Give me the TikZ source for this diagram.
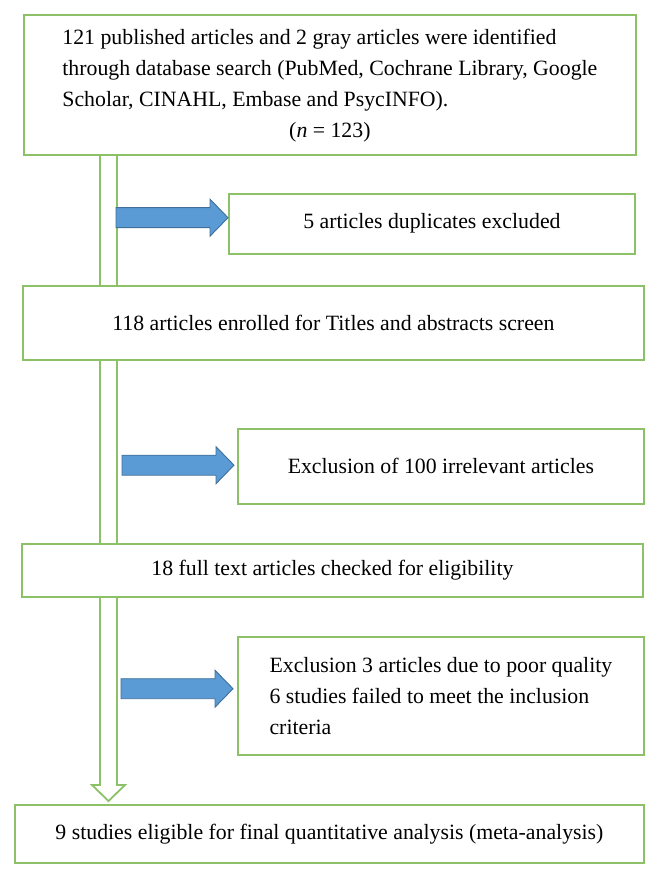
\documentclass[tikz,border=0pt]{standalone}
\usepackage{fontspec}
\setmainfont{Liberation Serif}
\usetikzlibrary{positioning}
\definecolor{boxgreen}{HTML}{8CC168}
\definecolor{arrowblue}{HTML}{5B9BD5}
\definecolor{arrowedge}{HTML}{3F6E99}
\pgfdeclarelayer{background}
\pgfsetlayers{background,main}
\tikzset{
  box/.style={rectangle, draw=boxgreen, fill=white, line width=1.8pt, text centered, inner sep=0pt},
  hollow/.style={draw=boxgreen, fill=white, line width=1.8pt, line join=miter},
  flow/.style={draw=arrowedge, fill=arrowblue, line width=0.9pt, line join=miter}
}
\newcommand{\flowarrow}[1]{\draw[flow] #1 -- ++(-18,-18.5) -- ++(0,8.5) -- ++(-94,0) -- ++(0,20) -- ++(94,0) -- ++(0,8.5) -- cycle;}

\begin{document}
\begin{tikzpicture}[x=1pt, y=-1pt, font=\fontsize{21.8}{31}\selectfont]
	\useasboundingbox (0,0) rectangle (658,877);
	% main column
	\node[box, anchor=north west, minimum width=612pt, minimum height=140pt] (search) at (23,14) {\begin{tabular}{@{}l@{}}
		121 published articles and 2 gray articles were identified\\
		through database search (PubMed, Cochrane Library, Google\\
		Scholar, CINAHL, Embase and PsycINFO).\\
		\multicolumn{1}{@{}c@{}}{(\textit{n} = 123)}
	\end{tabular}};
	\node[box, anchor=north west, minimum width=621pt, minimum height=74pt] (screen) at (22,285) {118 articles enrolled for Titles and abstracts screen};
	\node[box, anchor=north west, minimum width=621pt, minimum height=53pt] (fulltext) at (21,543) {18 full text articles checked for eligibility};
	\node[box, anchor=north west, minimum width=629pt, minimum height=58pt] (final) at (14,804) {9 studies eligible for final quantitative analysis (meta-analysis)};
	% side boxes
	\node[box, below left=37pt and 1pt of search.south east, minimum width=406pt, minimum height=60pt] (dupl) {5 articles duplicates excluded};
	\node[box, below left=67pt and 0pt of screen.south east, minimum width=406pt, minimum height=75pt] (irrel) {Exclusion of 100 irrelevant articles};
	\node[box, below left=38pt and -1pt of fulltext.south east, minimum width=406pt, minimum height=118pt, align=left] (quality) {Exclusion 3 articles due to poor quality\\
		6 studies failed to meet the inclusion\\
		criteria};
	
	% hollow trunk arrow
	\coordinate (tip) at ([xshift=94.5pt,yshift=3pt]final.north west);
	\coordinate (trunk) at (search.south -| tip);
	\begin{pgfonlayer}{background}
		\draw[hollow] ([xshift=-8.5pt]trunk) -- ([xshift=-8.5pt,yshift=16pt]tip) -- ([xshift=-16.5pt,yshift=16pt]tip) -- (tip) -- ([xshift=16.5pt,yshift=16pt]tip) -- ([xshift=8.5pt,yshift=16pt]tip) -- ([xshift=8.5pt]trunk);
	\end{pgfonlayer}
	
	% blue arrows
	\flowarrow{([yshift=6pt]dupl.west)}
	\flowarrow{([xshift=-3pt,yshift=1pt]irrel.west)}
	\flowarrow{([xshift=-4pt,yshift=7pt]quality.west)}
\end{tikzpicture}
\end{document}
